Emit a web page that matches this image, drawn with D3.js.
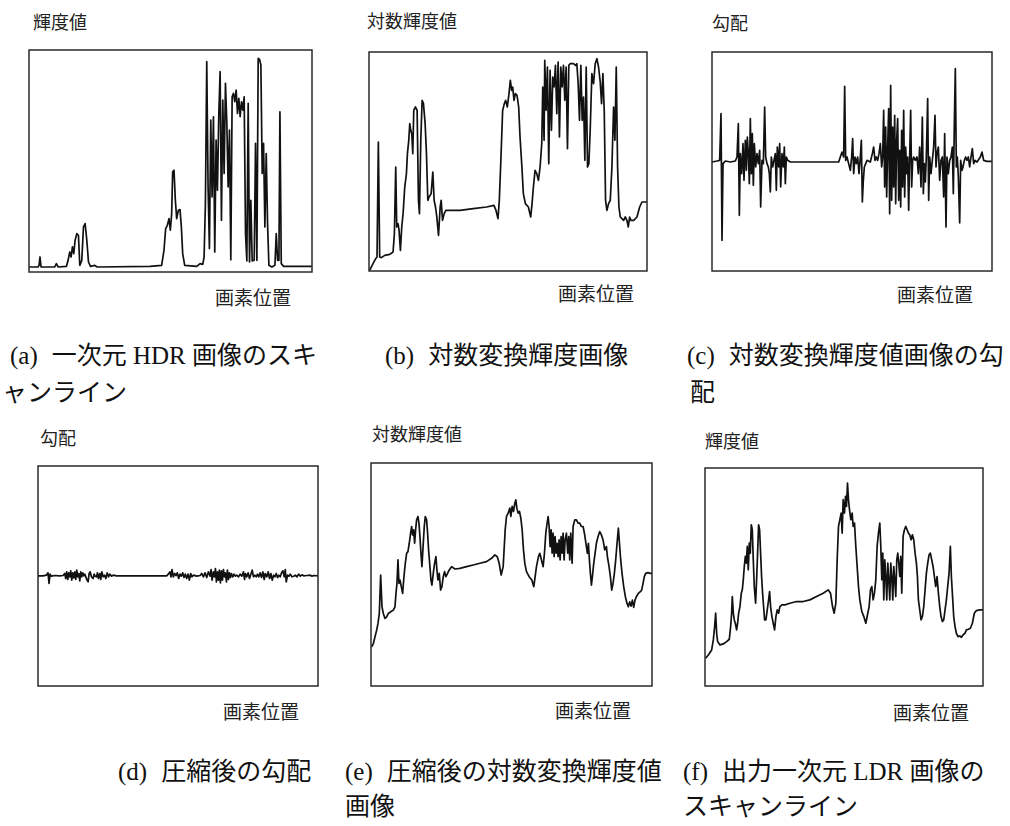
<!DOCTYPE html>
<html>
<head>
<meta charset="utf-8">
<script src="https://cdn.jsdelivr.net/npm/d3@7"></script>
<style>
  body { margin: 0; background: #fff; }
  svg { display: block; }
</style>
</head>
<body>
<div id="chart"></div>
<script>
// values, as [pixel position, level]
const scanHdr = [[0,15],[27,15],[30,20],[33,45],[36,15],[77,15],[82,25],[87,15],[112,17],[117,35],[122,60],[126,45],[130,75],[134,55],[138,95],[143,115],[148,110],[152,20],[158,35],[163,135],[168,145],[173,95],[178,30],[184,17],[197,20],[204,15],[362,17],[397,20],[404,65],[409,130],[414,140],[419,160],[423,125],[427,175],[430,300],[434,305],[438,215],[442,160],[447,185],[452,187],[456,135],[460,55],[466,20],[502,17],[512,25],[520,23],[524,45],[528,205],[532,630],[536,255],[540,70],[544,455],[548,225],[552,465],[556,60],[560,395],[564,245],[568,470],[572,600],[576,155],[580,515],[584,295],[588,565],[592,450],[596,255],[600,425],[604,37],[608,525],[612,535],[616,510],[620,545],[624,475],[628,520],[632,465],[636,510],[640,485],[644,525],[648,115],[652,33],[656,505],[660,30],[664,215],[668,33],[674,35],[678,385],[682,35],[686,640],[690,637],[694,620],[698,295],[702,385],[706,135],[710,355],[714,145],[718,20],[727,15],[736,20],[740,115],[744,35],[748,35],[751,480],[755,25],[762,17],[847,17]]

const logLum = [[2,2],[12,22],[20,37],[24,42],[28,387],[32,42],[37,40],[47,47],[62,50],[72,57],[76,112],[80,312],[83,132],[87,142],[90,122],[94,62],[98,132],[102,172],[107,252],[112,292],[115,352],[119,392],[122,442],[125,422],[128,412],[131,352],[134,482],[139,492],[144,482],[148,212],[151,172],[155,392],[159,512],[163,502],[168,442],[172,352],[176,212],[180,222],[186,232],[191,297],[195,212],[199,192],[203,162],[208,107],[213,192],[216,212],[220,152],[225,172],[230,182],[242,182],[272,182],[312,187],[352,192],[374,197],[380,182],[386,157],[390,212],[395,342],[400,482],[405,502],[409,512],[414,492],[419,532],[423,572],[427,542],[430,552],[434,512],[438,532],[443,527],[448,492],[452,402],[457,322],[462,232],[468,202],[477,192],[484,162],[488,202],[492,252],[497,302],[502,292],[507,272],[512,312],[517,382],[520,552],[524,392],[526,632],[530,482],[534,612],[538,322],[542,602],[546,422],[550,582],[554,552],[558,617],[562,472],[566,627],[570,402],[574,612],[578,552],[582,617],[586,512],[590,612],[594,367],[598,617],[602,622],[612,622],[618,617],[622,622],[626,562],[630,452],[634,617],[638,452],[642,522],[646,332],[650,612],[654,312],[658,322],[662,422],[667,592],[672,562],[677,622],[682,637],[687,612],[692,567],[696,502],[700,592],[704,482],[708,212],[712,182],[717,202],[722,212],[727,312],[732,492],[736,392],[740,612],[744,312],[748,192],[752,162],[757,157],[762,152],[767,162],[772,152],[776,132],[780,162],[784,152],[792,152],[802,162],[810,192],[817,207],[832,207]]

const gradient = [[0,-2],[15,1],[23,3],[27,143],[30,-237],[33,-7],[40,1],[55,-2],[70,1],[75,13],[79,113],[82,-162],[85,23],[89,-37],[93,53],[96,-57],[100,63],[103,-27],[106,73],[109,23],[112,-67],[115,128],[118,-37],[121,83],[124,-72],[127,53],[131,-17],[135,23],[139,-7],[143,33],[146,-137],[150,3],[154,-7],[158,163],[161,13],[165,-7],[169,-17],[172,-37],[175,-92],[178,13],[182,-17],[186,3],[190,23],[193,-87],[196,43],[200,-17],[203,53],[206,-77],[210,23],[214,-17],[217,43],[220,-67],[223,13],[227,3],[235,-2],[265,-2],[305,-2],[355,-2],[380,-2],[385,13],[390,28],[395,13],[398,225],[401,3],[405,13],[410,-7],[415,-27],[419,13],[422,68],[425,-37],[429,13],[433,-7],[437,13],[441,-37],[445,13],[448,63],[451,-122],[454,-57],[457,-17],[465,3],[475,-2],[481,23],[485,43],[489,3],[493,13],[497,3],[501,23],[505,53],[509,-17],[512,13],[515,153],[518,-77],[521,103],[524,-107],[527,43],[530,158],[533,-157],[536,228],[539,-117],[542,103],[545,-77],[548,138],[551,-127],[554,63],[557,128],[560,-117],[563,33],[566,-137],[569,93],[572,-77],[575,153],[578,-107],[581,43],[584,-37],[587,13],[590,-147],[593,13],[596,153],[599,-77],[602,3],[605,13],[610,3],[615,13],[619,-37],[623,43],[627,-77],[631,133],[634,-97],[637,-7],[640,-62],[643,13],[647,188],[650,-117],[653,13],[657,-37],[661,3],[665,43],[669,138],[672,-17],[675,23],[679,43],[683,-57],[687,3],[691,13],[695,-107],[698,83],[702,-197],[705,13],[709,-37],[713,3],[717,13],[721,43],[724,-97],[727,113],[730,278],[733,-17],[736,13],[739,-47],[743,-185],[746,3],[750,-27],[753,-17],[757,3],[761,13],[765,3],[769,13],[773,-17],[777,13],[781,38],[785,-7],[789,3],[795,-2],[805,13],[810,28],[815,3],[825,0],[840,0]]

const gradCompressed = [[0,0],[15,0],[25,2],[30,9],[33,-23],[36,5],[40,-1],[50,1],[65,0],[75,1],[80,7],[83,-8],[86,12],[89,-11],[92,9],[95,-3],[98,15],[101,-13],[104,9],[107,-6],[110,12],[113,-11],[116,17],[119,-3],[122,7],[125,-15],[128,12],[131,-3],[134,9],[137,0],[140,5],[143,-3],[147,-13],[150,-18],[153,7],[156,12],[160,-3],[165,-8],[168,5],[171,-1],[175,-3],[178,9],[181,-8],[185,7],[188,-11],[191,12],[195,-3],[199,2],[203,-8],[207,9],[211,-3],[215,5],[220,-1],[225,2],[235,0],[285,0],[335,0],[385,0],[390,5],[395,12],[398,-3],[401,19],[405,-3],[409,7],[413,1],[417,9],[421,-8],[425,5],[429,-1],[433,9],[437,-5],[441,5],[445,-8],[449,5],[453,-13],[457,7],[461,-3],[465,2],[475,-1],[485,1],[490,7],[495,-3],[500,9],[505,-5],[510,12],[515,-1],[518,19],[521,-13],[525,12],[528,-3],[531,22],[534,-18],[537,12],[540,-13],[543,17],[546,-21],[549,15],[552,-13],[555,19],[558,-3],[561,9],[564,-18],[567,17],[570,-11],[573,9],[576,-5],[579,7],[583,-3],[587,5],[591,-1],[595,2],[600,-3],[605,5],[610,-1],[615,12],[618,-11],[621,7],[625,-3],[629,9],[633,-8],[637,5],[641,17],[645,-3],[649,2],[653,-3],[657,5],[661,-3],[665,9],[669,-5],[673,12],[677,-11],[680,7],[685,-3],[689,12],[693,-8],[697,7],[701,-13],[705,2],[709,-3],[713,7],[717,-5],[721,2],[725,-3],[729,9],[733,15],[737,-3],[740,19],[743,-18],[747,2],[751,-1],[755,5],[760,-3],[765,-1],[770,2],[775,-3],[780,5],[785,-1],[790,3],[795,0],[805,1],[815,2],[820,-1],[825,1],[838,0]]

const logCompressed = [[2,117],[7,127],[12,147],[17,167],[21,187],[25,217],[29,332],[33,237],[37,217],[42,202],[47,207],[52,217],[59,222],[67,227],[72,237],[75,277],[78,307],[81,377],[84,307],[87,317],[91,297],[95,277],[99,327],[103,367],[107,397],[111,402],[115,427],[119,457],[122,477],[125,452],[128,467],[131,427],[134,467],[137,497],[141,507],[144,487],[147,447],[150,397],[153,357],[157,427],[160,477],[163,507],[167,497],[170,457],[173,407],[177,357],[180,317],[183,302],[187,337],[191,367],[195,387],[198,347],[201,317],[205,337],[209,287],[213,297],[217,327],[221,342],[225,327],[230,337],[235,347],[242,357],[252,350],[267,352],[287,357],[307,362],[327,367],[347,372],[362,382],[372,392],[379,387],[385,367],[391,332],[397,357],[403,467],[407,507],[412,517],[417,532],[420,507],[424,537],[428,522],[432,547],[435,557],[438,532],[442,517],[446,522],[450,502],[454,467],[458,407],[462,367],[467,342],[475,327],[483,317],[489,297],[493,327],[497,357],[503,387],[507,397],[512,377],[517,357],[521,397],[525,457],[529,487],[532,507],[535,477],[538,417],[541,467],[544,397],[547,457],[550,387],[553,447],[556,397],[559,427],[562,387],[565,437],[568,377],[571,447],[574,397],[577,457],[580,377],[583,437],[587,457],[591,397],[594,447],[597,377],[600,457],[604,367],[607,477],[612,497],[617,497],[622,487],[627,487],[632,477],[637,477],[641,457],[644,437],[647,417],[650,397],[653,427],[656,377],[659,337],[662,302],[665,327],[669,367],[673,397],[677,427],[682,447],[687,462],[692,452],[697,437],[702,407],[707,417],[710,387],[715,357],[719,327],[723,287],[727,307],[731,337],[735,377],[739,427],[743,472],[747,417],[750,377],[754,337],[759,297],[764,267],[769,247],[773,237],[777,252],[781,239],[785,257],[789,235],[793,257],[797,267],[803,277],[809,282],[813,287],[817,307],[821,327],[825,337],[832,339],[839,337],[844,337]]

const scanLdr = [[2,83],[10,93],[20,108],[25,138],[29,178],[32,218],[35,158],[38,133],[45,123],[55,126],[65,133],[73,140],[77,178],[80,218],[82,268],[85,218],[88,198],[91,188],[95,168],[98,188],[101,218],[105,238],[109,278],[112,288],[115,318],[118,358],[121,388],[124,368],[127,418],[130,348],[133,428],[136,398],[139,483],[142,468],[145,378],[148,298],[152,248],[155,318],[158,398],[161,483],[164,468],[167,398],[170,328],[173,278],[176,238],[179,198],[183,198],[187,228],[191,258],[194,283],[197,238],[201,208],[205,188],[209,168],[213,208],[217,228],[221,218],[225,238],[231,243],[240,243],[255,248],[275,253],[295,253],[315,258],[335,268],[355,278],[370,288],[377,278],[383,238],[388,218],[393,248],[397,378],[401,478],[405,498],[409,518],[412,458],[415,558],[419,518],[422,568],[425,538],[428,608],[431,558],[434,528],[438,498],[442,518],[445,478],[449,488],[453,418],[457,358],[461,298],[465,258],[471,223],[477,208],[483,188],[489,218],[493,238],[497,288],[501,298],[505,258],[509,278],[513,318],[517,418],[521,458],[525,488],[528,418],[531,318],[534,398],[537,258],[540,378],[543,328],[546,258],[549,368],[552,318],[555,258],[558,368],[561,328],[564,258],[567,358],[570,318],[573,268],[576,378],[579,398],[582,368],[585,328],[588,388],[591,278],[595,448],[599,468],[603,478],[607,468],[611,458],[615,453],[619,438],[623,453],[627,438],[631,398],[635,368],[638,328],[641,258],[645,228],[649,198],[653,208],[657,238],[661,288],[665,338],[669,368],[673,393],[677,398],[681,378],[685,358],[689,328],[693,298],[697,328],[701,278],[705,238],[709,208],[713,193],[717,198],[721,228],[725,258],[729,298],[733,338],[737,418],[740,328],[743,278],[747,208],[751,178],[755,158],[760,148],[765,150],[770,146],[775,153],[781,158],[785,168],[791,170],[797,173],[803,188],[809,218],[815,226],[825,228],[835,228]]

const yLabels = ["輝度値", "対数輝度値", "勾配", "勾配", "対数輝度値", "輝度値"]
const xLabel = "画素位置"
const captionTags = ["(a)", "(b)", "(c)", "(d)", "(e)", "(f)"]
const captionLines = [
  ["一次元 HDR 画像のスキ", "ャンライン"],
  ["対数変換輝度画像"],
  ["対数変換輝度値画像の勾", "配"],
  ["圧縮後の勾配"],
  ["圧縮後の対数変換輝度値", "画像"],
  ["出力一次元 LDR 画像の", "スキャンライン"]
]

// layout of each small plot on the page
const panels = [
  {data: scanHdr,        xMax: 847, yDomain: [0, 665],    frame: [29, 50, 312, 272],  yLab: [33, 21],  xLab: [215, 296], cap: [10, 355],  cap2: [2, 392]},
  {data: logLum,         xMax: 832, yDomain: [0, 657],    frame: [369, 52, 647, 271], yLab: [367, 20], xLab: [558, 292], cap: [385, 355], cap2: null},
  {data: gradient,       xMax: 840, yDomain: [-329, 328], frame: [712, 52, 992, 271], yLab: [712, 22], xLab: [897, 293], cap: [687, 355], cap2: [690, 392]},
  {data: gradCompressed, xMax: 838, yDomain: [-330, 329], frame: [38, 466, 318, 686], yLab: [40, 437], xLab: [223, 710], cap: [118, 771], cap2: null},
  {data: logCompressed,  xMax: 844, yDomain: [0, 667],    frame: [371, 463, 652, 686], yLab: [372, 433], xLab: [555, 709], cap: [345, 771], cap2: [345, 806]},
  {data: scanLdr,        xMax: 835, yDomain: [0, 653],    frame: [705, 468, 983, 686], yLab: [705, 440], xLab: [893, 711], cap: [683, 771], cap2: [683, 806]}
]

const svg = d3.select("#chart").append("svg")
    .attr("width", 1010)
    .attr("height", 826)

const sansFont = '"Noto Sans CJK JP", "Noto Sans", sans-serif'
const capFont = '"Liberation Serif", "Noto Sans CJK JP", serif'

panels.forEach(function(p, i) {
  const [x0, y0, x1, y1] = p.frame

  const xScale = d3.scaleLinear()
      .domain([0, p.xMax])
      .range([x0, x1])

  const yScale = d3.scaleLinear()
      .domain(p.yDomain)
      .range([y1, y0])

  const line = d3.line()
      .x(d => xScale(d[0]))
      .y(d => yScale(d[1]))

  const g = svg.append("g").attr("class", "panel")

  g.append("path")
    .attr("d", line(p.data))
    .attr("fill", "none")
    .attr("stroke", "#111")
    .attr("stroke-width", 1.7)
    .attr("stroke-linejoin", "round")

  g.append("rect")
    .attr("x", x0)
    .attr("y", y0)
    .attr("width", x1 - x0)
    .attr("height", y1 - y0)
    .attr("fill", "none")
    .attr("stroke", "#2a2a2a")
    .attr("stroke-width", 1.5)

  g.append("text")
    .attr("x", p.yLab[0])
    .attr("y", p.yLab[1])
    .attr("dominant-baseline", "central")
    .attr("font-family", sansFont)
    .attr("font-size", "18px")
    .attr("fill", "#222")
    .text(yLabels[i])

  g.append("text")
    .attr("x", p.xLab[0])
    .attr("y", p.xLab[1])
    .attr("dominant-baseline", "central")
    .attr("font-family", sansFont)
    .attr("font-size", "19px")
    .attr("fill", "#222")
    .text(xLabel)

  // caption under the plot
  const cap = g.append("text")
    .attr("x", p.cap[0])
    .attr("y", p.cap[1])
    .attr("dominant-baseline", "central")
    .attr("font-family", capFont)
    .attr("font-size", "25px")
    .attr("fill", "#111")
  cap.append("tspan").text(captionTags[i])
  cap.append("tspan").attr("dx", 14).text(captionLines[i][0])

  if (p.cap2) {
    g.append("text")
      .attr("x", p.cap2[0])
      .attr("y", p.cap2[1])
      .attr("dominant-baseline", "central")
      .attr("font-family", capFont)
      .attr("font-size", "25px")
      .attr("fill", "#111")
      .text(captionLines[i][1])
  }
})
</script>
</body>
</html>
